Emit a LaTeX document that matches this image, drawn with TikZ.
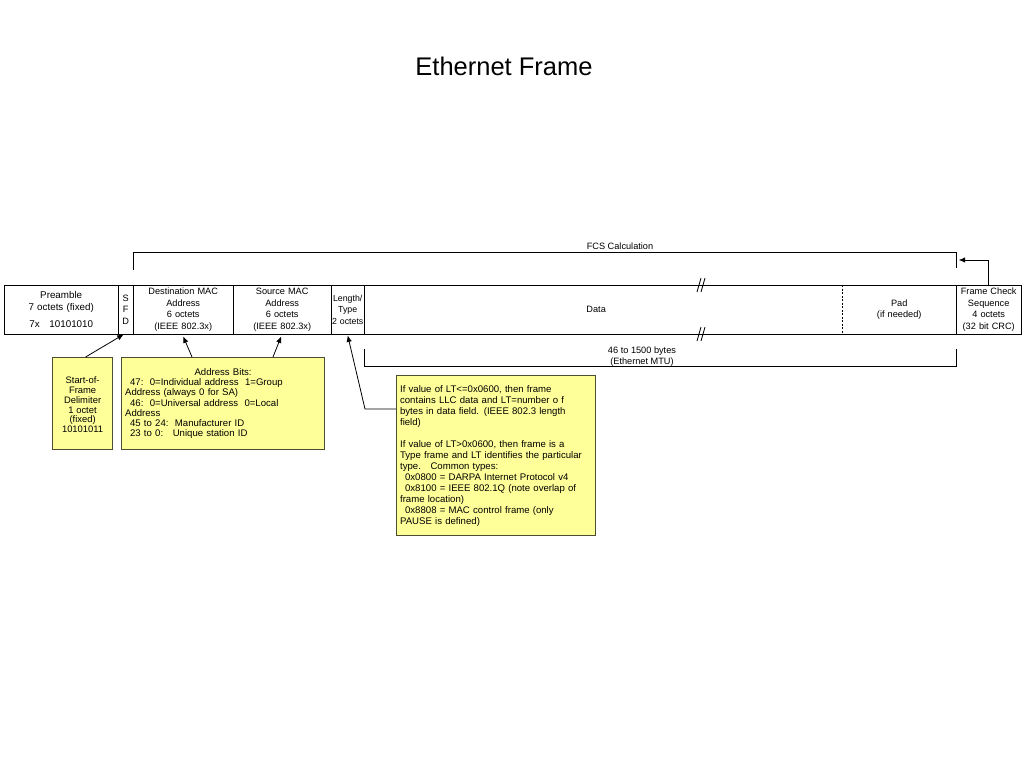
\documentclass[tikz,border=0pt]{standalone}
\usepackage{fontspec}
\setmainfont{Liberation Sans}
\usetikzlibrary{arrows.meta,calc}
\definecolor{notefill}{HTML}{FFFF99}
\definecolor{noteline}{HTML}{4D4D33}
\begin{document}
\begin{tikzpicture}[x=1pt,y=-1pt,
  field/.style={inner sep=0pt, minimum height=49pt, anchor=north west, align=center,
    font=\fontsize{9.2}{11.5}\selectfont},
  note/.style={draw=noteline, fill=notefill, line width=1.2pt, anchor=north west,
    inner sep=0pt, font=\fontsize{9.6}{10.6}\selectfont},
  conn/.style={line width=0.8pt, -{Latex[length=6.5pt,width=5.5pt]}},
  frameline/.style={line width=1pt},
  lbl/.style={inner sep=0pt, font=\fontsize{9.2}{11}\selectfont}]
\useasboundingbox[fill=white] (0,0) rectangle (1024,768);
\node[inner sep=0pt] (title) at (504,66) {\fontsize{25.5}{30}\selectfont Ethernet Frame};
% fields
\node[field, text width=114pt, font=\fontsize{9.8}{11.5}\selectfont] (pre) at (4,285) {Preamble\\7 octets (fixed)\\[6pt]7x\quad 10101010};
\node[field, text width=15pt] (sfd) at (118,285) {S\\F\\D};
\node[field, text width=100pt] (dest) at (133,285) {Destination MAC\\Address\\6 octets\\(IEEE 802.3x)};
\node[field, text width=98pt] (src) at (233,285) {Source MAC\\Address\\6 octets\\(IEEE 802.3x)};
\node[field, text width=33pt, font=\fontsize{8.8}{11.5}\selectfont] (lt) at (331,285) {\makebox[0pt]{Length/}\\Type\\\makebox[0pt]{2 octets}};
\node[field, text width=478pt] (data) at (364,285) {\hspace*{-14pt}Data};
\node[field, text width=114pt] (pad) at (842,285) {Pad\\(if needed)};
\node[field, text width=65pt] (fcs) at (956,285) {\makebox[0pt]{Frame Check}\\Sequence\\4 octets\\\makebox[0pt]{(32 bit CRC)}};
% frame outline and dividers
\draw[frameline] (pre.north west) rectangle (fcs.south east);
\foreach \f in {sfd,dest,src,lt,data,fcs}
  \draw[frameline] (\f.north west) -- (\f.south west);
\draw[line width=0.6pt, dashed, dash pattern=on 2pt off 1.5pt] (pad.north west) -- (pad.south west);
% break marks
\draw[line width=0.8pt] (697,292) -- (701,278) (701,292) -- (705,278);
\draw[line width=0.8pt] (697,341) -- (701,327) (701,341) -- (705,327);
% FCS calculation bracket
\draw[frameline] (133,270) -- (133,252) -- (956,252) -- (956,268);
\node[lbl] (fcslbl) at (620,246) {FCS Calculation};
\draw[conn] (fcs.north) -- ++(0,-25) -- ++(-30,0);
% MTU bracket
\draw[frameline] (364,349) -- (364,366) -- (956,366) -- (956,349);
\node[lbl, align=center, font=\fontsize{9.2}{11}\selectfont] (mtu) at (642,357) {46 to 1500 bytes\\(Ethernet MTU)};
% notes
\node[note, minimum width=60pt, minimum height=92pt, align=center, font=\fontsize{9.4}{9.9}\selectfont] (sfdnote) at (52,357)
  {\rule{0pt}{9pt}Start-of-\\Frame\\Delimiter\\1 octet\\(fixed)\\10101011};
\node[note, minimum width=203pt, minimum height=92pt, text width=196pt, align=left, inner xsep=3.5pt, font=\fontsize{9.6}{10.3}\selectfont] (addr) at (121,357)
  {\makebox[196pt][c]{Address Bits:}\\
   \hspace*{5pt}47:\ \ 0=Individual address\ \ 1=Group\\
   Address (always 0 for SA)\\
   \hspace*{5pt}46:\ \ 0=Universal address\ \ 0=Local\\
   Address\\
   \hspace*{5pt}45 to 24:\ \ Manufacturer ID\\
   \hspace*{5pt}23 to 0:\ \ \ Unique station ID\\[12pt]};
\node[note, minimum width=197pt, minimum height=160pt, text width=192pt, align=left, inner xsep=3.5pt, font=\fontsize{9.6}{11}\selectfont] (ltnote) at (396,375)
  {If value of LT<=0x0600, then frame\\
   contains LLC data and LT=number o f\\
   bytes in data field. (IEEE 802.3 length\\
   field)\\[11pt]
   If value of LT>0x0600, then frame is a\\
   Type frame and LT identifies the particular\\
   type.\ \ \ Common types:\\
   \hspace*{5pt}0x0800 = DARPA Internet Protocol v4\\
   \hspace*{5pt}0x8100 = IEEE 802.1Q (note overlap of\\
   frame location)\\
   \hspace*{5pt}0x8808 = MAC control frame (only\\
   PAUSE is defined)};
% connectors
\draw[conn] ($(sfdnote.north)+(3,0)$) -- ($(sfd.south)+(-2,0)$);
\draw[conn] ($(addr.north west)+(71,0)$) -- ($(dest.south)+(0,2)$);
\draw[conn] ($(addr.north west)+(152,0)$) -- ($(src.south)+(-1,2)$);
\draw[conn] ($(ltnote.north west)+(0,34)$) -- ++(-31,0) -- ($(lt.south)+(0,1)$);
\end{tikzpicture}
\end{document}
